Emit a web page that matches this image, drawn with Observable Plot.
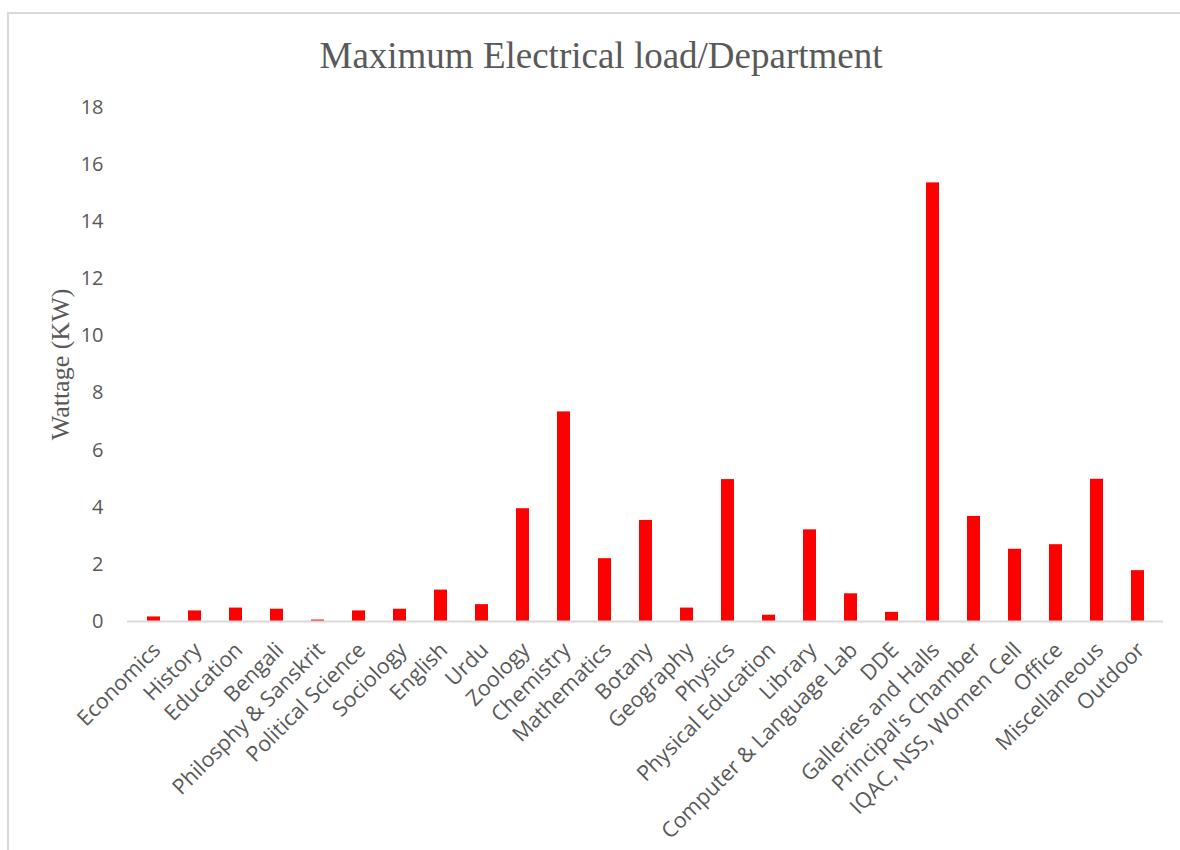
<!DOCTYPE html>
<html>
<head>
<meta charset="utf-8">
<script src="https://cdn.jsdelivr.net/npm/d3@7"></script>
<script src="https://cdn.jsdelivr.net/npm/@observablehq/plot@0.6"></script>
<style>
  body { margin: 0; background: #fff; }
  #wrap { position: relative; width: 1180px; height: 850px; overflow: hidden; background: #fff; }
  #frame { position: absolute; left: 7px; top: 12px; width: 1300px; height: 1000px;
           border-top: 2px solid #d9d9d9; border-left: 2px solid #d9d9d9; box-sizing: border-box; }
  #title { position: absolute; top: 37px; left: 11px; width: 1180px; text-align: center;
           font-family: "Liberation Serif", "DejaVu Serif", serif; font-size: 37px; line-height: 1;
           color: #595959; }
  #chart { position: absolute; top: 80px; left: 0; }
</style>
</head>
<body>
<div id="wrap">
  <div id="frame"></div>
  <div id="title">Maximum Electrical load/Department</div>
  <div id="chart"></div>
</div>
<script>
const departments = [
  "Economics", "History", "Education", "Bengali", "Philosphy & Sanskrit",
  "Political Science", "Sociology", "English", "Urdu", "Zoology",
  "Chemistry", "Mathematics", "Botany", "Geography", "Physics",
  "Physical Education", "Library", "Computer & Language Lab", "DDE",
  "Galleries and Halls", "Principal's Chamber", "IQAC, NSS, Women Cell",
  "Office", "Miscellaneous", "Outdoor"
];
const loadKW = [
  0.16, 0.37, 0.47, 0.43, 0.05,
  0.37, 0.43, 1.1, 0.59, 3.95,
  7.34, 2.2, 3.54, 0.47, 4.97,
  0.22, 3.21, 0.97, 0.32,
  15.36, 3.68, 2.53,
  2.69, 4.98, 1.78
];
const yTicks = [0, 2, 4, 6, 8, 10, 12, 14, 16, 18];
const yLabel = "Wattage (KW)";

const data = departments.map((d, i) => ({dept: d, kw: loadKW[i]}));

const chart = Plot.plot({
  width: 1180,
  height: 770,
  marginTop: 27,
  marginBottom: 229,
  marginLeft: 127,
  marginRight: 17,
  style: { color: "#595959", fontFamily: "'Open Sans', sans-serif", background: "transparent" },
  x: { domain: departments, paddingInner: 0.686, paddingOuter: 0.343 },
  y: { domain: [0, 18] },
  marks: [
    Plot.axisY({ ticks: yTicks, tickSize: 0, tickPadding: 24, fontSize: 20, label: null }),
    Plot.axisX({ tickRotate: -45, tickSize: 0, tickPadding: 25, dx: 3, fontSize: 21.5, label: null }),
    Plot.barY(data, { x: "dept", y: "kw", fill: "#ff0000" }),
    Plot.ruleY([0], { stroke: "#d9d9d9", strokeWidth: 2 }),
    Plot.text([yLabel], { frameAnchor: "left", dx: -67, rotate: -90, textAnchor: "middle", text: d => d,
      fontFamily: "'Liberation Serif', serif", fontSize: 26, fill: "#595959" })
  ]
});
document.getElementById("chart").appendChild(chart);
</script>
</body>
</html>
